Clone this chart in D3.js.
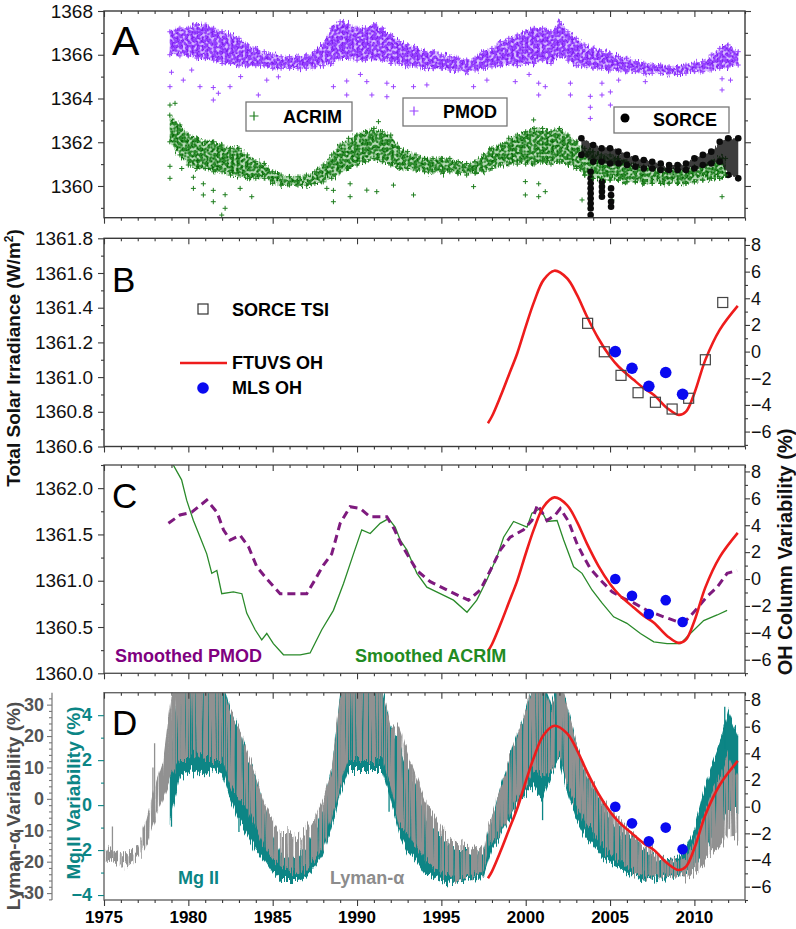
<!DOCTYPE html>
<html><head><meta charset="utf-8">
<script src="https://cdn.jsdelivr.net/npm/d3@7"></script>
<style>
body{margin:0;background:#fff;}
text{font-family:"Liberation Sans",Arial,Helvetica,sans-serif;}
</style></head><body>
<svg id="chart" width="796" height="929" xmlns="http://www.w3.org/2000/svg"></svg>
<script>
// ---------------- DATA ----------------
// x ticks
const xMajorTicks = [1975,1980,1985,1990,1995,2000,2005,2010];

// Panel A: daily TSI clouds, dense core read as [year, upper, lower] (W/m2)
const pmodBand = [[1978.9,1367.05,1366.0],[1979.5,1367.21,1365.95],[1980,1367.21,1365.95],[1980.5,1367.36,1365.85],[1981,1367.36,1365.85],[1981.5,1367.21,1365.75],[1982,1367.05,1365.6],[1982.5,1366.90,1365.6],[1983,1366.75,1365.5],[1983.5,1366.45,1365.5],[1984,1366.29,1365.5],[1984.5,1366.14,1365.5],[1985,1365.99,1365.38],[1985.5,1365.91,1365.38],[1986,1365.91,1365.38],[1986.5,1365.91,1365.38],[1987,1365.99,1365.38],[1987.5,1366.14,1365.45],[1988,1366.45,1365.5],[1988.5,1367.21,1365.6],[1989,1367.51,1365.85],[1989.5,1367.36,1365.85],[1990,1367.21,1365.75],[1990.5,1367.21,1365.75],[1991,1367.36,1365.85],[1991.5,1367.21,1365.75],[1992,1366.90,1365.6],[1992.5,1366.60,1365.6],[1993,1366.45,1365.5],[1993.5,1366.29,1365.5],[1994,1366.14,1365.38],[1994.5,1366.14,1365.38],[1995,1365.99,1365.38],[1995.5,1365.91,1365.30],[1996,1365.84,1365.30],[1996.5,1365.76,1365.23],[1997,1365.84,1365.30],[1997.5,1366.14,1365.38],[1998,1366.29,1365.45],[1998.5,1366.60,1365.5],[1999,1366.75,1365.6],[1999.5,1366.90,1365.5],[2000,1367.05,1365.6],[2000.5,1367.21,1365.6],[2001,1367.21,1365.75],[2001.5,1367.05,1365.6],[2002,1367.51,1365.95],[2002.5,1367.05,1365.75],[2003,1366.75,1365.5],[2003.5,1366.45,1365.5],[2004,1366.29,1365.38],[2004.5,1366.14,1365.38],[2005,1366.06,1365.30],[2005.5,1365.91,1365.30],[2006,1365.84,1365.23],[2006.5,1365.68,1365.23],[2007,1365.61,1365.15],[2007.5,1365.53,1365.15],[2008,1365.53,1365.15],[2008.5,1365.45,1365.15],[2009,1365.45,1365.10],[2009.5,1365.53,1365.15],[2010,1365.61,1365.23],[2010.5,1365.68,1365.23],[2011,1365.99,1365.30],[2011.5,1366.29,1365.38],[2012,1366.45,1365.45],[2012.6,1366.14,1365.53]];
const pmodSpikes = [[1978.91,1364.54],[1979.0,1365.2],[1979.70,1364.84],[1980.2,1365.3],[1980.69,1364.54],[1981.48,1363.93],[1981.48,1364.5],[1981.78,1364.24],[1982.47,1364.54],[1983.1,1365.0],[1984.15,1364.16],[1984.65,1364.84],[1985.34,1364.99],[1988.6,1364.54],[1989.39,1364.16],[1989.39,1364.8],[1990.2,1365.1],[1990.58,1364.77],[1990.88,1364.16],[1991.77,1364.08],[1991.77,1364.7],[1992.16,1364.54],[1993.35,1364.54],[1994.14,1364.62],[1996.91,1364.54],[1997.70,1364.84],[1999.38,1364.77],[2000.2,1365.1],[2000.77,1364.16],[2000.77,1364.7],[2001.16,1364.54],[2002.65,1364.16],[2002.65,1364.7],[2003.83,1363.09],[2003.83,1363.6],[2003.83,1364.1],[2004.52,1364.16],[2004.52,1364.7],[2005.02,1363.70],[2005.02,1364.3],[2005.51,1364.84],[2007.09,1364.77],[2011.64,1364.39],[2011.64,1364.9],[2012.14,1364.84]];

const acrimBand = [[1978.9,1363.24,1362.02],[1979.5,1362.79,1361.42],[1980,1362.33,1360.96],[1980.5,1362.18,1360.80],[1981,1362.02,1360.80],[1981.5,1362.02,1360.65],[1982,1361.87,1360.65],[1982.5,1361.72,1360.50],[1983,1361.72,1360.50],[1983.5,1361.42,1360.35],[1984,1361.11,1360.35],[1984.5,1361.03,1360.35],[1985,1360.65,1360.12],[1985.5,1360.50,1360.04],[1986,1360.42,1360.04],[1986.5,1360.42,1360.04],[1987,1360.50,1360.04],[1987.5,1360.65,1360.12],[1988,1360.96,1360.19],[1988.5,1361.42,1360.35],[1989,1361.87,1360.65],[1989.5,1362.18,1360.80],[1990,1362.33,1360.96],[1990.5,1362.48,1361.11],[1991,1362.63,1361.26],[1991.5,1362.48,1361.11],[1992,1362.33,1360.96],[1992.5,1361.72,1360.80],[1993,1361.57,1360.80],[1993.5,1361.42,1360.73],[1994,1361.26,1360.65],[1994.5,1361.26,1360.65],[1995,1361.26,1360.65],[1995.5,1361.26,1360.65],[1996,1361.11,1360.58],[1996.5,1361.03,1360.50],[1997,1361.11,1360.58],[1997.5,1361.42,1360.65],[1998,1361.72,1360.80],[1998.5,1361.87,1360.96],[1999,1362.18,1361.0],[1999.5,1362.33,1361.0],[2000,1362.48,1361.0],[2000.5,1362.63,1361.0],[2001,1362.63,1361.1],[2001.5,1362.48,1361.0],[2002,1362.63,1361.1],[2002.5,1362.33,1361.0],[2003,1362.02,1360.80],[2003.5,1361.72,1360.50],[2004,1361.57,1360.35],[2004.5,1361.42,1360.35],[2005,1361.42,1360.27],[2005.5,1361.26,1360.27],[2006,1361.11,1360.19],[2006.5,1360.96,1360.19],[2007,1360.88,1360.12],[2007.5,1360.80,1360.12],[2008,1360.80,1360.12],[2008.5,1360.80,1360.12],[2009,1360.73,1360.12],[2009.5,1360.80,1360.12],[2010,1360.88,1360.19],[2010.5,1360.96,1360.27],[2011,1361.11,1360.35],[2011.5,1361.26,1360.35],[2011.85,1361.26,1360.50]];
const acrimSpikes = [[1978.91,1360.35],[1978.91,1360.9],[1978.91,1363.7],[1979.21,1363.78],[1979.61,1360.80],[1980.30,1359.89],[1980.30,1360.4],[1980.89,1359.59],[1980.89,1360.1],[1981.48,1359.28],[1981.48,1359.8],[1981.98,1358.67],[1982.18,1358.98],[1982.18,1359.6],[1983.07,1359.89],[1983.76,1359.51],[1988.21,1359.89],[1988.60,1359.28],[1988.60,1359.8],[1989.59,1359.51],[1989.59,1360.1],[1990.58,1359.81],[1991.17,1359.74],[1991.27,1362.94],[1992.16,1360.04],[1993.35,1359.59],[1996.91,1359.97],[1999.98,1359.59],[1999.98,1360.2],[2000.47,1363.02],[2000.77,1359.51],[2000.77,1360.1],[2001.16,1359.74],[2003.34,1359.36],[2004.52,1359.74],[2005.12,1359.36],[2011.64,1359.51]];

const sorceBand = [[2003.3,1362.18,1361.42],[2004,1361.87,1361.11],[2004.5,1361.72,1361.11],[2005,1361.72,1361.03],[2005.5,1361.57,1361.03],[2006,1361.42,1360.96],[2006.5,1361.26,1360.88],[2007,1361.19,1360.80],[2007.5,1361.11,1360.80],[2008,1361.03,1360.73],[2008.5,1360.96,1360.73],[2009,1360.96,1360.73],[2009.5,1361.03,1360.73],[2010,1361.26,1360.80],[2010.5,1361.42,1360.96],[2011,1361.57,1361.03],[2011.5,1362.02,1361.11],[2012,1362.18,1360.50],[2012.6,1362.18,1360.35]];
const sorceDips = [[2003.85,1360.65],[2003.85,1360.35],[2003.85,1360.12],[2003.85,1359.89],[2003.85,1359.66],[2003.85,1359.43],[2003.85,1359.2],[2003.85,1358.97],[2003.85,1358.67],[2004.52,1360.19],[2004.52,1359.97],[2004.52,1359.74],[2004.52,1359.51],[2005.06,1359.89],[2005.06,1359.58],[2005.06,1359.28],[2005.06,1359.05]];

// Panel B: SORCE TSI annual (W/m2), MLS OH (%), FTUVS OH curve (%)
const tsiYears = [2003.67,2004.66,2005.65,2006.66,2007.69,2008.68,2009.66,2010.65,2011.68];
const tsiValues = [1361.31,1361.146,1361.01,1360.91,1360.855,1360.816,1360.878,1361.10,1361.43];
const mlsYears = [2005.31,2006.3,2007.3,2008.3,2009.3];
const mlsValues = [0,-1.25,-2.6,-1.57,-3.2];
const ftuvsYears = [1997.76,1998.0,1998.5,1999.0,1999.5,2000.0,2000.5,2001.06,2001.7,2002.45,2003.04,2003.63,2004.3,2005.0,2005.5,2006.4,2007.0,2007.6,2008.4,2009.07,2009.5,2010.0,2010.65,2011.5,2012.57];
const ftuvsValues = [-5.37,-4.85,-3.37,-1.75,-0.12,1.88,3.75,5.38,6.07,5.5,4.25,2.63,1.0,-0.37,-1.12,-2.12,-2.75,-3.25,-4.25,-4.75,-4.5,-3.12,-0.62,1.63,3.43];

// Panel C: smoothed TSI (W/m2)
const smPmodYears = [1978.82,1979.5,1980.2,1981.09,1981.7,1982.08,1982.48,1983.07,1983.56,1984.06,1984.65,1985.44,1986.23,1987.02,1987.51,1988.01,1988.5,1989.0,1989.59,1990.19,1990.78,1991.77,1992.2,1992.6,1993.55,1994.34,1995.33,1996.12,1996.61,1997.3,1997.9,1998.49,1999.08,1999.87,2000.37,2000.7,2001.26,2001.75,2002.05,2002.54,2003.04,2003.43,2003.83,2004.42,2005.12,2005.8,2006.4,2007.19,2008.18,2008.97,2009.56,2010.16,2010.75,2011.35,2011.94,2012.53];
const smPmodValues = [1361.62,1361.71,1361.74,1361.87,1361.74,1361.55,1361.44,1361.49,1361.37,1361.15,1361.02,1360.86,1360.86,1360.86,1361.01,1361.17,1361.29,1361.62,1361.80,1361.78,1361.69,1361.69,1361.56,1361.40,1361.11,1360.99,1360.90,1360.83,1360.79,1360.90,1361.11,1361.33,1361.47,1361.55,1361.65,1361.82,1361.65,1361.71,1361.78,1361.64,1361.40,1361.26,1361.13,1361.01,1360.88,1360.81,1360.76,1360.68,1360.61,1360.56,1360.58,1360.70,1360.83,1360.93,1361.08,1361.11];
const smAcrimYears = [1978.8,1979.6,1979.9,1980.3,1980.7,1981.09,1981.39,1981.69,1981.98,1982.67,1983.17,1983.46,1983.96,1984.35,1984.65,1985.04,1985.64,1986.63,1987.22,1987.91,1988.6,1989.2,1989.79,1990.28,1990.78,1991.37,1991.87,1992.26,1992.56,1992.96,1993.55,1994.14,1994.93,1995.72,1996.52,1997.1,1997.7,1998.3,1998.69,1999.28,2000.08,2000.37,2000.87,2001.26,2001.86,2002.25,2002.84,2003.34,2003.93,2004.52,2005.21,2006.0,2006.8,2007.59,2008.38,2009.17,2009.76,2010.55,2011.35,2011.94];
const smAcrimValues = [1362.35,1362.09,1361.87,1361.65,1361.47,1361.29,1361.08,1361.11,1360.86,1360.88,1360.86,1360.65,1360.47,1360.36,1360.43,1360.32,1360.20,1360.20,1360.22,1360.47,1360.68,1360.97,1361.29,1361.55,1361.51,1361.62,1361.67,1361.58,1361.44,1361.33,1361.08,1360.93,1360.86,1360.79,1360.66,1360.79,1361.01,1361.26,1361.47,1361.64,1361.58,1361.73,1361.78,1361.64,1361.65,1361.44,1361.15,1361.08,1360.90,1360.76,1360.61,1360.54,1360.43,1360.34,1360.32,1360.32,1360.43,1360.57,1360.63,1360.68];

// Panel D: Mg II (%) and Lyman-alpha (%) variability, [year, upper, lower]
const mgBand = [[1978.9,2.0,-0.81],[1979.5,5.56,1.26],[1980,5.56,1.41],[1980.5,5.56,1.56],[1981,5.56,1.41],[1981.5,5.56,1.56],[1982,5.56,1.41],[1982.5,4.22,0.22],[1983,3.48,-0.67],[1983.5,2.0,-1.26],[1984,1.26,-2.0],[1984.5,-0.22,-2.44],[1985,-1.26,-3.04],[1985.5,-2.15,-3.33],[1986,-2.30,-3.33],[1986.5,-2.30,-3.33],[1987,-1.85,-3.19],[1987.5,-0.96,-2.74],[1988,-0.22,-2.15],[1988.5,1.56,-0.96],[1989,4.96,0.52],[1989.5,5.56,1.56],[1990,5.56,1.56],[1990.5,5.56,1.56],[1991,5.56,1.56],[1991.5,5.26,1.56],[1992,3.48,0.22],[1992.5,2.74,-1.26],[1993,1.70,-2.0],[1993.5,0.81,-2.44],[1994,-0.22,-3.04],[1994.5,-0.96,-3.19],[1995,-1.41,-3.33],[1995.5,-1.85,-3.41],[1996,-2.0,-3.41],[1996.5,-2.0,-3.33],[1997,-2.15,-3.26],[1997.5,-2.15,-3.19],[1997.8,-1.26,-2.44],[1998,-0.67,-2.0],[1998.5,0.81,-1.41],[1999,2.0,-0.67],[1999.5,3.04,-0.07],[2000,4.22,0.52],[2000.5,5.56,0.81],[2001,5.56,0.22],[2001.5,4.52,1.26],[2002,5.56,2.0],[2002.5,4.22,0.52],[2003,2.74,-0.67],[2003.5,1.56,-1.41],[2004,0.81,-1.85],[2004.5,0.07,-2.30],[2005,-0.52,-2.59],[2005.5,-1.11,-2.74],[2006,-1.41,-3.04],[2006.5,-1.70,-3.19],[2007,-2.0,-3.26],[2007.5,-2.30,-3.33],[2008,-2.44,-3.26],[2008.5,-2.44,-3.19],[2009,-2.30,-3.11],[2009.5,-1.85,-3.04],[2010,-0.96,-2.74],[2010.5,0.52,-2.15],[2011,1.70,-1.56],[2011.5,2.74,-0.96],[2012,4.22,-0.22],[2012.6,3.04,-0.22]];
const lyBand = [[1975,-17.8,-20.5],[1975.3,-15.2,-19.4],[1975.6,-16.2,-20.0],[1976,-17.3,-21.6],[1976.5,-17.3,-21.0],[1977,-16.2,-19.4],[1977.5,-6.7,-15.2],[1978,3.9,-6.7],[1978.5,12.4,-0.3],[1979,33.7,7.1],[1979.5,37.9,12.4],[1980,37.9,12.4],[1980.5,37.9,14.5],[1981,37.9,12.4],[1981.5,37.9,12.4],[1982,37.9,12.4],[1982.5,28.4,3.9],[1983,23.0,-0.3],[1983.5,14.5,-3.5],[1984,7.1,-8.8],[1984.5,-1.4,-15.2],[1985,-6.7,-19.4],[1985.5,-10.9,-21.6],[1986,-10.9,-22.6],[1986.5,-12.0,-23.7],[1987,-9.9,-22.6],[1987.5,-5.6,-19.4],[1988,-0.3,-15.2],[1988.5,9.2,-6.7],[1989,33.7,3.9],[1989.5,37.9,12.4],[1990,37.9,12.4],[1990.5,37.9,12.4],[1991,37.9,12.4],[1991.5,35.8,12.4],[1992,23.0,3.9],[1992.5,23.0,-8.8],[1993,14.5,-10.9],[1993.5,7.1,-15.2],[1994,-0.3,-19.4],[1994.5,-4.6,-21.6],[1995,-8.8,-23.7],[1995.5,-13.1,-24.7],[1996,-14.1,-25.8],[1996.5,-15.2,-24.7],[1997,-16.2,-23.7],[1997.5,-15.2,-23.7],[1997.8,-7.8,-15.2],[1998,-5.6,-14.1],[1998.5,3.9,-10.9],[1999,12.4,-5.6],[1999.5,19.9,-0.3],[2000,28.4,3.9],[2000.5,37.9,9.2],[2001,37.9,7.1],[2001.5,28.4,9.2],[2002,37.9,14.5],[2002.5,28.4,3.9],[2003,17.7,-2.4],[2003.5,10.3,-6.7],[2004,5.0,-10.9],[2004.5,-0.3,-15.2],[2005,-3.5,-17.3],[2005.5,-6.7,-19.4],[2006,-8.8,-21.6],[2006.5,-12.0,-23.7],[2007,-14.1,-24.7],[2007.5,-16.2,-24.7],[2008,-18.4,-24.7],[2008.5,-19.4,-24.7],[2009,-19.4,-24.7],[2009.5,-18.4,-24.7],[2010,-13.1,-23.7],[2010.5,-5.6,-21.6],[2011,1.8,-17.3],[2011.5,7.1,-15.2],[2012,14.5,-10.9],[2012.6,7.1,-13.1]];
// individual spikes [year, from, to]
const mgSpikes = [[1979.0,0.5,-0.96],[1983.0,-0.5,-1.2],[2001.0,0.4,-0.67],[2011.8,2.5,4.37],[1991.9,1.0,-0.3]];
const lySpikes = [[1975.5,-18,-8.8],[1978.0,0,17.7],[1977.9,-5,10.0]];

// tick labels
const tsiATicks = [1360,1362,1364,1366,1368];
const tsiBTicks = [1360.6,1360.8,1361.0,1361.2,1361.4,1361.6,1361.8];
const tsiCTicks = [1360.0,1360.5,1361.0,1361.5,1362.0];
const ohTicks = [-6,-4,-2,0,2,4,6,8];
const mgTicks = [-4,-2,0,2,4];
const lyTicks = [-30,-20,-10,0,10,20,30];

// ---------------- CHART ----------------
const svg = d3.select("#chart");
const XL = 104, XR = 745;
const x = d3.scaleLinear().domain([1975,2013]).range([XL,XR]);
const P = {A:[11,217.7], B:[238.3,446.5], C:[465,673.3], D:[692.7,900]};
const yA = d3.scaleLinear().domain([1358.55,1368]).range([P.A[1],P.A[0]]);
const yB = d3.scaleLinear().domain([1360.6,1361.8]).range([P.B[1],P.B[0]]);
const yBr = d3.scaleLinear().domain([-7.12,8.5]).range([P.B[1],P.B[0]]);
const yC = d3.scaleLinear().domain([1360,1362.25]).range([P.C[1],P.C[0]]);
const yCr = d3.scaleLinear().domain([-7.01,8.48]).range([P.C[1],P.C[0]]);
const yDr = d3.scaleLinear().domain([-7.0,8.55]).range([P.D[1],P.D[0]]);
const yMg = d3.scaleLinear().domain([-4.22,5.0]).range([P.D[1],P.D[0]]);
const yLy = d3.scaleLinear().domain([-32.2,33.8]).range([P.D[1],P.D[0]]);

const defs = svg.append("defs");
Object.entries(P).forEach(([k,[t,b]])=>{
  defs.append("clipPath").attr("id","clip"+k).append("rect")
    .attr("x",XL).attr("y",t).attr("width",XR-XL).attr("height",b-t);
});
// noise filter: vertical jitter (varies quickly along x) + optional speckle mask
function jag(id, freq, scale, seed, mask){
  const f = defs.append("filter").attr("id",id).attr("x","-5%").attr("y","-40%").attr("width","110%").attr("height","180%");
  f.append("feTurbulence").attr("type","fractalNoise").attr("baseFrequency",freq).attr("numOctaves",2).attr("seed",seed).attr("result","n");
  f.append("feColorMatrix").attr("in","n").attr("type","matrix")
    .attr("values","0 0 0 0 0.5  0 1 0 0 0  0 0 1 0 0  0 0 0 0 1").attr("result","m");
  f.append("feDisplacementMap").attr("in","SourceGraphic").attr("in2","m").attr("scale",scale)
    .attr("xChannelSelector","R").attr("yChannelSelector","G").attr("result","d");
  if(mask){
    f.append("feTurbulence").attr("type","fractalNoise").attr("baseFrequency",mask.freq).attr("numOctaves",1).attr("seed",seed+5).attr("result","n2");
    f.append("feColorMatrix").attr("in","n2").attr("type","matrix")
      .attr("values",`0 0 0 0 0  0 0 0 0 0  0 0 0 0 0  ${mask.k} 0 0 0 ${mask.o}`).attr("result","mk");
    f.append("feComposite").attr("in","d").attr("in2","mk").attr("operator","in");
  }
}
jag("jagP","0.6 0.03",16,4,{freq:"0.35 0.35",k:5,o:-1.6});
jag("jagG","0.6 0.03",16,9,{freq:"0.35 0.35",k:5,o:-1.7});
jag("jagS","0.6 0.05",8,2,null);
jag("jagMg","0.9 0.015",22,3,null);
jag("jagLy","0.9 0.015",22,7,{freq:"1.6 0.01",k:6,o:-1.75});
function plusPattern(id,color){
  const p = defs.append("pattern").attr("id",id).attr("width",5).attr("height",5).attr("patternUnits","userSpaceOnUse");
  p.append("path").attr("d","M0.5,2.5H4.5M2.5,0.5V4.5").attr("stroke",color).attr("stroke-width",1);
}
plusPattern("plusP","#7f22ee");
plusPattern("plusG","#0a6a0a");

const FRAME = "#3a3a3a";
const plusPath = s => `M${-s},0H${s}M0,${-s}V${s}`;

// ---------- generic axes ----------
function tidy(g, color){ g.select(".domain").remove(); g.selectAll("line").attr("stroke",color||FRAME).attr("stroke-width",1.1); return g; }
function xTicks(k){
  const [t,b] = P[k];
  const major = xMajorTicks, minor = d3.range(1975,2014).filter(d=>d%5!==0);
  [t,b].forEach(yy=>{
    tidy(svg.append("g").attr("transform",`translate(0,${yy})`).call(d3.axisBottom(x).tickValues(major).tickSize(6).tickFormat("")));
    tidy(svg.append("g").attr("transform",`translate(0,${yy})`).call(d3.axisBottom(x).tickValues(minor).tickSize(3).tickFormat("")));
  });
}
function frame(k, stroke){
  const [t,b] = P[k];
  svg.append("rect").attr("x",XL).attr("y",t).attr("width",XR-XL).attr("height",b-t)
    .attr("fill","none").attr("stroke",stroke||FRAME).attr("stroke-width",1.4);
}
function yAxis(scale, side, major, minor, fmt, opts={}){
  const X = side==="left" ? (opts.at!==undefined?opts.at:XL) : XR;
  const gen = side==="left" ? d3.axisLeft(scale) : d3.axisRight(scale);
  const g = svg.append("g").attr("transform",`translate(${X},0)`)
    .call(gen.tickValues(major).tickSize(opts.size||6).tickPadding(opts.pad!==undefined?opts.pad:5).tickFormat(fmt||""));
  tidy(g, opts.color);
  g.selectAll("text").attr("font-size",opts.fs||19).attr("fill",opts.tcolor||"#111")
    .attr("font-weight",opts.bold?"bold":"normal");
  if(minor){
    const gm = svg.append("g").attr("transform",`translate(${X},0)`)
      .call((side==="left"?d3.axisLeft(scale):d3.axisRight(scale)).tickValues(minor).tickSize(3).tickFormat(""));
    tidy(gm, opts.color);
  }
  return g;
}

// ================= PANEL A =================
const gA = svg.append("g").attr("clip-path","url(#clipA)");
function band(g, data, yS, fill, pattern, filter, opac){
  const area = d3.area().x(d=>x(d[0])).y0(d=>yS(d[2])).y1(d=>yS(d[1]));
  const gg = g.append("g").attr("filter",`url(#${filter})`);
  gg.append("path").datum(data).attr("d",area).attr("fill",fill).attr("opacity",opac||1);
  if(pattern) gg.append("path").datum(data).attr("d",area).attr("fill",`url(#${pattern})`);
  return gg;
}
// PMOD
band(gA, pmodBand, yA, "#bd8cff", null, "jagS", 0.6);
band(gA, pmodBand, yA, "#9440ff", "plusP", "jagP");
gA.append("g").selectAll("path").data(pmodBand.flatMap(d=>[[d[0],d[1]],[d[0],d[2]]]).concat(pmodSpikes)).join("path")
  .attr("transform",d=>`translate(${x(d[0])},${yA(d[1])})`).attr("d",plusPath(2.5)).attr("stroke","#9a45ff").attr("stroke-width",1);
// ACRIM
band(gA, acrimBand, yA, "#6db56d", null, "jagS", 0.5);
band(gA, acrimBand, yA, "#2a8a2a", "plusG", "jagG");
gA.append("g").selectAll("path").data(acrimBand.flatMap(d=>[[d[0],d[1]],[d[0],d[2]]]).concat(acrimSpikes)).join("path")
  .attr("transform",d=>`translate(${x(d[0])},${yA(d[1])})`).attr("d",plusPath(2.5)).attr("stroke","#1d7d1d").attr("stroke-width",1);
// SORCE (on top, semi-opaque so green shows through at the overlap)
const sorceArea = d3.area().x(d=>x(d[0])).y0(d=>yA(d[2])).y1(d=>yA(d[1]));
gA.append("path").datum(sorceBand).attr("d",sorceArea).attr("fill","#0b0b0b").attr("opacity",0.8).attr("filter","url(#jagS)");
gA.append("g").selectAll("circle").data(sorceBand.flatMap(d=>[[d[0],d[1]],[d[0],d[2]]]).concat(sorceDips)).join("circle")
  .attr("cx",d=>x(d[0])).attr("cy",d=>yA(d[1])).attr("r",3.3).attr("fill","#0b0b0b");
// a few ACRIM crosses back on top of the overlap
gA.append("g").selectAll("path").data(acrimBand.filter(d=>d[0]>=2003.5).map(d=>[d[0],d[2]])).join("path")
  .attr("transform",d=>`translate(${x(d[0])},${yA(d[1])})`).attr("d",plusPath(2.5)).attr("stroke","#1d7d1d").attr("stroke-width",1);

frame("A");
xTicks("A");
yAxis(yA,"left",tsiATicks,d3.range(1359,1368,2),d3.format("d"));
yAxis(yA,"right",tsiATicks,d3.range(1359,1368,2),"");
svg.append("text").attr("x",112).attr("y",55).attr("font-size",41).text("A");

// legends A
function legendBox(x0,y0,w,h){ svg.append("rect").attr("x",x0).attr("y",y0).attr("width",w).attr("height",h).attr("fill","#fff").attr("stroke","#777").attr("stroke-width",1.3); }
legendBox(246,102,106,29);
svg.append("path").attr("transform","translate(254,116)").attr("d",plusPath(4.5)).attr("stroke","#1d7d1d").attr("stroke-width",1.2);
svg.append("text").attr("x",283).attr("y",123).attr("font-size",18).attr("font-weight","bold").text("ACRIM");
legendBox(403,98,104,28);
svg.append("path").attr("transform","translate(414,111)").attr("d",plusPath(4.5)).attr("stroke","#9a45ff").attr("stroke-width",1.2);
svg.append("text").attr("x",443).attr("y",118).attr("font-size",18).attr("font-weight","bold").text("PMOD");
legendBox(614,107,115,26);
svg.append("circle").attr("cx",625).attr("cy",118).attr("r",4.5).attr("fill","#000");
svg.append("text").attr("x",653).attr("y",126).attr("font-size",18).attr("font-weight","bold").text("SORCE");

// ================= PANEL B =================
const ohLine = (yS)=> d3.line().x((d,i)=>x(ftuvsYears[i])).y(d=>yS(d)).curve(d3.curveCatmullRom.alpha(0.5));
const gB = svg.append("g").attr("clip-path","url(#clipB)");
gB.append("path").datum(ftuvsValues).attr("d",ohLine(yBr)).attr("fill","none").attr("stroke","#ee1c1c").attr("stroke-width",2.6);
gB.append("g").selectAll("rect").data(tsiValues).join("rect")
  .attr("x",(d,i)=>x(tsiYears[i])-5).attr("y",d=>yB(d)-5).attr("width",10).attr("height",10)
  .attr("fill","none").attr("stroke","#444").attr("stroke-width",1.2);
gB.append("g").selectAll("circle").data(mlsValues).join("circle")
  .attr("cx",(d,i)=>x(mlsYears[i])).attr("cy",d=>yBr(d)).attr("r",5.8).attr("fill","#0a0af0");
frame("B");
xTicks("B");
yAxis(yB,"left",tsiBTicks,d3.range(1360.7,1361.8,0.2),d3.format(".1f"));
yAxis(yBr,"right",ohTicks,d3.range(-7,9,2),d3.format("d"),{size:5,pad:1,fs:18});
svg.append("text").attr("x",112).attr("y",292).attr("font-size",35).text("B");
svg.append("rect").attr("x",198).attr("y",304).attr("width",10).attr("height",10).attr("fill","none").attr("stroke","#333").attr("stroke-width",1.2);
svg.append("text").attr("x",232).attr("y",316).attr("font-size",18).attr("font-weight","bold").text("SORCE TSI");
svg.append("line").attr("x1",180).attr("x2",227).attr("y1",363).attr("y2",363).attr("stroke","#ee1c1c").attr("stroke-width",2.4);
svg.append("text").attr("x",232).attr("y",369).attr("font-size",18).attr("font-weight","bold").text("FTUVS OH");
svg.append("circle").attr("cx",203).attr("cy",388).attr("r",5.8).attr("fill","#0a0af0");
svg.append("text").attr("x",232).attr("y",394).attr("font-size",18).attr("font-weight","bold").text("MLS OH");

// ================= PANEL C =================
const gC = svg.append("g").attr("clip-path","url(#clipC)");
gC.append("path").datum(smAcrimValues).attr("d",d3.line().x((d,i)=>x(smAcrimYears[i])).y(d=>yC(d)))
  .attr("fill","none").attr("stroke","#2a8a2a").attr("stroke-width",1.3);
gC.append("path").datum(smPmodValues).attr("d",d3.line().x((d,i)=>x(smPmodYears[i])).y(d=>yC(d)))
  .attr("fill","none").attr("stroke","#7e1a7e").attr("stroke-width",3).attr("stroke-dasharray","8,5");
gC.append("path").datum(ftuvsValues).attr("d",ohLine(yCr)).attr("fill","none").attr("stroke","#ee1c1c").attr("stroke-width",2.6);
gC.append("g").selectAll("circle").data(mlsValues).join("circle")
  .attr("cx",(d,i)=>x(mlsYears[i])).attr("cy",d=>yCr(d)).attr("r",5.3).attr("fill","#0a0af0");
frame("C","#555");
xTicks("C");
yAxis(yC,"left",tsiCTicks,d3.range(1360.25,1362.3,0.5),d3.format(".1f"));
yAxis(yCr,"right",ohTicks,d3.range(-7,9,2),d3.format("d"),{size:5,pad:1,fs:18});
svg.append("text").attr("x",112).attr("y",508).attr("font-size",35).text("C");
svg.append("text").attr("x",115).attr("y",662).attr("font-size",18).attr("font-weight","bold").attr("fill","#800080").text("Smoothed PMOD");
svg.append("text").attr("x",355).attr("y",662).attr("font-size",18).attr("font-weight","bold").attr("fill","#228b22").text("Smoothed ACRIM");

// ================= PANEL D =================
const gD = svg.append("g").attr("clip-path","url(#clipD)");
band(gD, mgBand, yMg, "#0b8585", null, "jagMg");
gD.append("g").selectAll("line").data(mgSpikes).join("line")
  .attr("x1",d=>x(d[0])).attr("x2",d=>x(d[0])).attr("y1",d=>yMg(d[1])).attr("y2",d=>yMg(d[2])).attr("stroke","#0b8585").attr("stroke-width",1.3);
band(gD, lyBand, yLy, "#919191", null, "jagLy", 1);
gD.append("g").selectAll("line").data(lySpikes).join("line")
  .attr("x1",d=>x(d[0])).attr("x2",d=>x(d[0])).attr("y1",d=>yLy(d[1])).attr("y2",d=>yLy(d[2])).attr("stroke","#919191").attr("stroke-width",1.3);
gD.append("path").datum(ftuvsValues).attr("d",ohLine(yDr)).attr("fill","none").attr("stroke","#ee1c1c").attr("stroke-width",2.6);
gD.append("g").selectAll("circle").data(mlsValues).join("circle")
  .attr("cx",(d,i)=>x(mlsYears[i])).attr("cy",d=>yDr(d)).attr("r",5.3).attr("fill","#0a0af0");
frame("D","#666");
xTicks("D");
yAxis(yMg,"left",mgTicks,d3.range(-3,5,2),d3.format("d"),{color:"#0b8585",tcolor:"#0b8585",bold:true,fs:18,pad:6});
yAxis(yDr,"right",ohTicks,d3.range(-7,9,2),d3.format("d"),{size:5,pad:1,fs:18});
// Lyman-alpha axis
svg.append("line").attr("x1",52).attr("x2",52).attr("y1",P.D[0]).attr("y2",P.D[1]).attr("stroke","#777").attr("stroke-width",1.2);
yAxis(yLy,"left",lyTicks,d3.range(-32,34,2).filter(d=>d%10!==0),d3.format("d"),{at:52,color:"#777",tcolor:"#555",bold:true,fs:18,size:5,pad:3});
svg.append("text").attr("x",112).attr("y",735).attr("font-size",35).text("D");
svg.append("text").attr("x",178).attr("y",884).attr("font-size",18).attr("font-weight","bold").attr("fill","#0b8585").text("Mg II");
svg.append("text").attr("x",330).attr("y",884).attr("font-size",18).attr("font-weight","bold").attr("fill","#8c8c8c").text("Lyman-α");
// x labels
svg.append("g").selectAll("text").data(xMajorTicks).join("text")
  .attr("x",d=>x(d)).attr("y",923).attr("text-anchor","middle").attr("font-size",17).attr("font-weight","bold").text(d=>d);

// ---------- axis titles ----------
const t1 = svg.append("text").attr("transform","translate(20,358) rotate(-90)").attr("text-anchor","middle")
  .attr("font-size",19).attr("font-weight","bold").attr("fill","#111");
t1.append("tspan").text("Total Solar Irradiance (W/m");
t1.append("tspan").attr("dy",-7).attr("font-size",12).text("2");
t1.append("tspan").attr("dy",7).text(")");
svg.append("text").attr("transform","translate(792,552) rotate(-90)").attr("text-anchor","middle")
  .attr("font-size",20).attr("font-weight","bold").attr("fill","#111").text("OH Column Variability (%)");
svg.append("text").attr("transform","translate(20,806) rotate(-90)").attr("text-anchor","middle")
  .attr("font-size",19).attr("font-weight","bold").attr("fill","#4d4d4d").text("Lyman-α Variability (%)");
svg.append("text").attr("transform","translate(80,793) rotate(-90)").attr("text-anchor","middle")
  .attr("font-size",19).attr("font-weight","bold").attr("fill","#0b8585").text("Mg II Variability (%)");
</script>
</body></html>
